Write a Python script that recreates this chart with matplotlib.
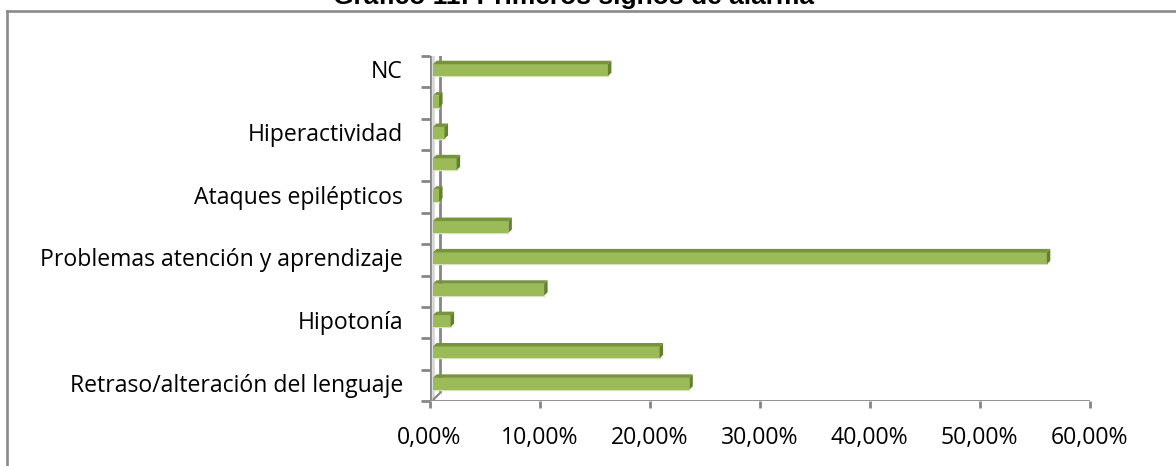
import numpy as np
import matplotlib
matplotlib.use("Agg")
import matplotlib.pyplot as plt
import matplotlib.transforms as mtransforms
from matplotlib.patches import Polygon
from matplotlib.lines import Line2D

# data, bottom to top
categories = ["Retraso/alteración del lenguaje", "", "Hipotonía", "",
              "Problemas atención y aprendizaje", "", "Ataques epilépticos", "",
              "Hiperactividad", "", "NC"]
values = [23.3, 20.6, 1.6, 10.1, 55.8, 6.85, 0.55, 2.15, 1.05, 0.55, 15.9]
xticks = [0, 10, 20, 30, 40, 50, 60]
title = "Gráfico 11: Primeros signos de alarma"

W, H = 1176, 466
fig = plt.figure(figsize=(W / 100, H / 100), dpi=100)
fig.patch.set_facecolor("white")

def fx(x):
    return x / W

def fy(y):
    return 1 - y / H

x0, x1 = 429.5, 1089.5
ytop, ybot = 56, 401
ax = fig.add_axes([fx(x0), fy(ybot), fx(x1) - fx(x0), fy(ytop) - fy(ybot)])
ax.set_xlim(0, 60)
ax.set_ylim(-0.5, len(categories) - 0.5)
for s in ax.spines.values():
    s.set_visible(False)
ax.patch.set_visible(False)

grey = "#868686"
lab_font = ["Open Sans", "DejaVu Sans"]
lab_size = 16.6

# wall lines (front axis + back wall), in pixels
wall = [((430, 54), (430, 401), grey, 2.0),
        ((432.5, 54), (432.5, 399), "#d4d4d4", 1.8),
        ((440, 46), (440, 393), grey, 2.0),
        ((430, 54), (440, 46), grey, 2.0),
        ((440, 393), (433, 400), grey, 1.6)]
for (xa, ya), (xb, yb), c, lw in wall:
    ax.add_artist(Line2D([fx(xa), fx(xb)], [fy(ya), fy(yb)], transform=fig.transFigure,
                         color=c, lw=lw, zorder=1, solid_capstyle="butt"))

# 3D-ish bars
shift = mtransforms.ScaledTranslation(3.5 / 100, 1.5 / 100, fig.dpi_scale_trans)
tr = ax.transData + shift
h = 0.38
dx = 3.5 * 60 / (x1 - x0)
dy = 3.5 * (len(categories)) / (ybot - ytop)
for i, v in enumerate(values):
    yb, yt = i - h / 2, i + h / 2
    ax.add_patch(Polygon([(0, yb), (v, yb), (v, yt), (0, yt)], closed=True,
                         facecolor="#9bbb59", edgecolor="none", transform=tr, zorder=3))
    ax.add_patch(Polygon([(0, yt), (v, yt), (v + dx, yt + dy), (dx, yt + dy)], closed=True,
                         facecolor="#77933c", edgecolor="none", transform=tr, zorder=3))
    ax.add_patch(Polygon([(v, yb), (v + dx, yb + dy), (v + dx, yt + dy), (v, yt)], closed=True,
                         facecolor="#64802f", edgecolor="none", transform=tr, zorder=3))
    ax.add_artist(Line2D([0, v], [yb, yb], color="#d7e4bd", lw=1.0, transform=tr, zorder=2))

# y axis: tick marks at band edges, labels in the middle
ax.set_yticks(np.arange(-0.5, len(categories), 1.0))
ax.set_yticklabels([])
ax.set_yticks(np.arange(len(categories)), labels=categories, minor=True)
ax.tick_params(axis="y", which="major", length=6.5, width=2, color=grey, direction="out")
ax.tick_params(axis="y", which="minor", length=0, pad=19)
lift = mtransforms.ScaledTranslation(0, 2.5 / 100, fig.dpi_scale_trans)
for t in ax.get_yticklabels(minor=True):
    t.set_fontfamily(lab_font)
    t.set_fontsize(lab_size)
    t.set_color("#000000")
    t.set_transform(t.get_transform() + lift)

# x axis
ax.add_artist(Line2D([fx(x0), fx(x1)], [fy(ybot), fy(ybot)], transform=fig.transFigure,
                     color=grey, lw=2.0, zorder=2))
ax.set_xticks(xticks)
ax.set_xticklabels([("%.2f%%" % t).replace(".", ",") for t in xticks],
                   fontfamily=lab_font, fontsize=lab_size)
ax.tick_params(axis="x", length=5, width=2, color=grey, pad=13)

# outer frame and cropped title
fig.add_artist(Line2D([fx(7), fx(W + 5)], [fy(10.5), fy(10.5)], color="#8a8a8a", lw=1.9))
fig.add_artist(Line2D([fx(7), fx(7)], [fy(10.5), fy(H + 5)], color="#8a8a8a", lw=1.9))
fig.text(fx(573.5), fy(4), title, ha="center", va="baseline",
         fontfamily="Liberation Sans", fontweight="bold", fontsize=19)

fig.savefig("out.png", dpi=100)
